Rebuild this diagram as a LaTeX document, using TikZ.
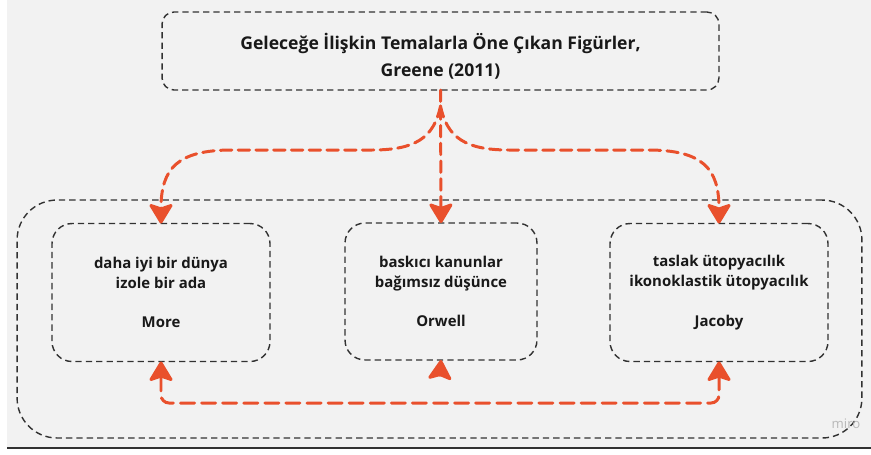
\documentclass[tikz,border=0pt]{standalone}
\usepackage{fontspec}
\setmainfont{Open Sans}
\usetikzlibrary{arrows.meta}
\definecolor{arancio}{RGB}{233,80,44}
\definecolor{grigiolinea}{RGB}{50,50,50}
\definecolor{sfondo}{RGB}{242,242,242}
\tikzset{punta/.tip={Stealth[length=12.5pt, width=15pt, inset=2.5pt, round]}}
\begin{document}
\begin{tikzpicture}[x=0.02cm, y=-0.02cm,
		scatola/.style={draw=grigiolinea, line width=0.8pt, dash pattern=on 3.6pt off 2.3pt,
			rectangle, rounded corners=0.4cm, inner sep=0pt, outer sep=0pt, align=center,
			font=\bfseries\fontsize{8.5}{11.3}\selectfont, text=black!90},
		freccia/.style={draw=arancio, line width=1.7pt, dash pattern=on 6.5pt off 3.6pt,
			-punta, line cap=round}]
		% Misure in pixel del disegno
		\def\Larga{871}
		\def\Alta{454}
		\def\Ybus{403}   % quota della linea di ritorno
		
		% --- Sfondo ---
		\useasboundingbox (0,0) rectangle (\Larga,\Alta);
		\fill[sfondo] (7,0) rectangle (\Larga,448);
		\draw[grigiolinea, line width=1.2pt] (7,448) -- (\Larga,448);
		
		% --- Riquadri ---
		% Titolo in alto
		\node[scatola, rounded corners=0.24cm, minimum width=11.14cm, minimum height=1.56cm,
			font=\bfseries\fontsize{10}{15.3}\selectfont] (titolo) at (440.5,51)
			{\rule{0pt}{15pt}Geleceğe İlişkin Temalarla Öne Çıkan Figürler,\\Greene (2011)};
		% Contenitore dei tre autori
		\node[scatola, rounded corners=0.8cm, minimum width=16.9cm, minimum height=4.76cm] (gruppo) at (439.5,319) {};
		\node[scatola, minimum width=4.36cm, minimum height=2.76cm] (more) at (161,292.5)
			{daha iyi bir dünya\\izole bir ada\\[11.3pt]More};
		\node[scatola, minimum width=3.84cm, minimum height=2.74cm] (orwell) at (441,291.5)
			{baskıcı kanunlar\\bağımsız düşünce\\[11.3pt]Orwell};
		\node[scatola, minimum width=4.36cm, minimum height=2.76cm] (jacoby) at (719,292.5)
			{taslak ütopyacılık\\ikonoklastik ütopyacılık\\[11.3pt]Jacoby};
		
		% Marchio in basso a destra
		\node[text=black!28, font=\fontsize{7.5}{8}\selectfont] (marchio) at (846,424) {miro};
		
		% --- Frecce dal titolo ---
		\coordinate (bivio) at (440.5,106);
		\draw[freccia] (titolo.south) -- (orwell.north);
		\draw[freccia] (bivio) .. controls (434,138) and (415,150) .. (372,150) -- (232,150)
			.. controls (178,150) and (161,168) .. (more.north);
		\draw[freccia] (bivio) .. controls (447,138) and (466,150) .. (509,150) -- (648,150)
			.. controls (702,150) and (719,168) .. (jacoby.north);
		
		% --- Frecce di ritorno ---
		\coordinate (ponte) at (440,\Ybus);
		\coordinate (coda) at (440,375);
		\draw[freccia, dash pattern=on 8pt off 4pt, punta-punta, rounded corners=0.16cm]
			(more.south) |- (ponte) -| (jacoby.south);
		\draw[freccia] (coda) -- (orwell.south);
	\end{tikzpicture}
\end{document}
